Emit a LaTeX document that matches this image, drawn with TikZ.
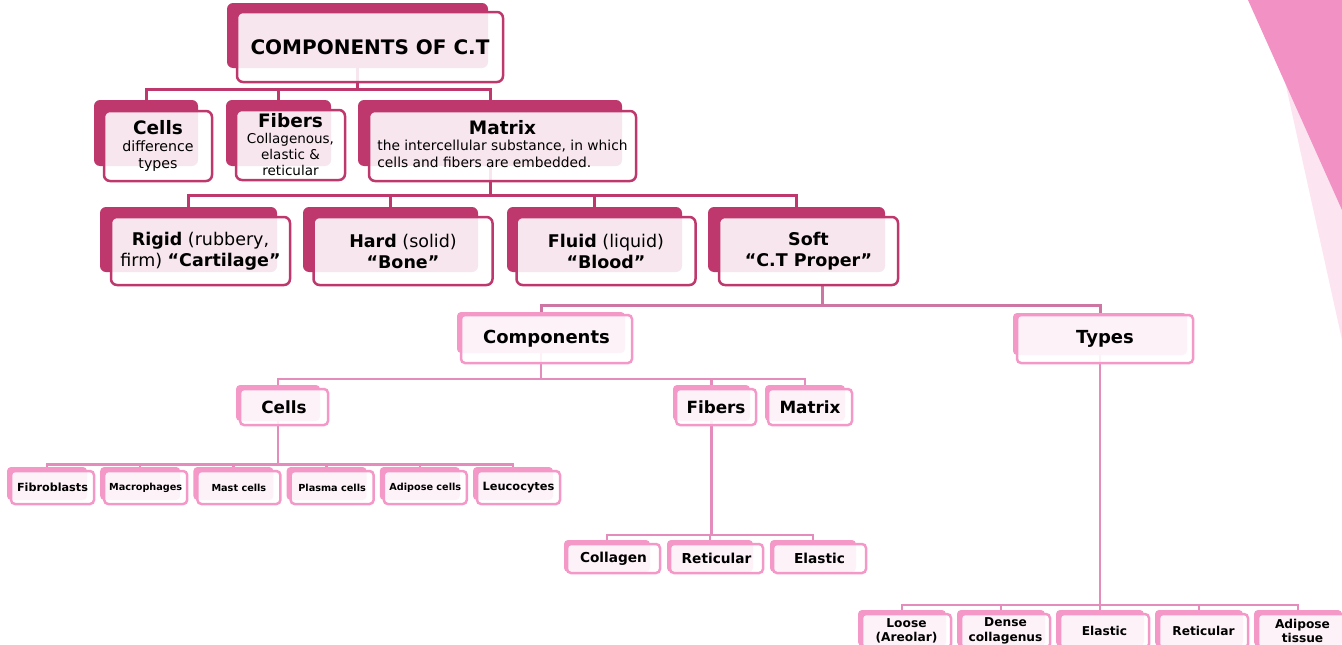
\documentclass[tikz,border=0pt]{standalone}
\usepackage{fontspec}
\setmainfont{DejaVu Sans}
\usetikzlibrary{backgrounds}

\definecolor{ctmag}{RGB}{191,56,109}
\definecolor{ctmid}{RGB}{205,118,163}
\definecolor{ctpink}{RGB}{244,152,200}
\definecolor{ctline}{RGB}{228,140,188}
\definecolor{ctdeco}{RGB}{241,145,196}
\definecolor{ctdecolight}{RGB}{252,229,241}

\begin{document}
\begin{tikzpicture}[x=1pt, y=-1pt,
    backA/.style={fill=ctmag, rounded corners=6pt, inner sep=0pt},
    frontA/.style={draw=ctmag, line width=2.5pt, fill=white, fill opacity=0.88, text opacity=1, rounded corners=6pt, inner sep=0pt, align=center},
    backB/.style={fill=ctpink, rounded corners=4pt, inner sep=0pt},
    frontB/.style={draw=ctpink, line width=2.5pt, fill=white, fill opacity=0.88, text opacity=1, rounded corners=4pt, inner sep=0pt, align=center},
    lineA/.style={draw=ctmag, line width=3pt},
    lineM/.style={draw=ctmid, line width=3pt},
    lineB/.style={draw=ctline, line width=2.5pt}]
%      \draw [help lines, opacity=0.3] (0,0) grid [step=50] (1342,645);
      \useasboundingbox (0,0) rectangle (1342,645);

      \fill [ctdecolight] (1267,0) -- (1342,0) -- (1342,340) -- cycle;
      \fill [ctdeco] (1248,0) -- (1342,0) -- (1342,210) -- cycle;

      % first two rows
      \node [backA, minimum width=261, minimum height=65] (top) at (357.5,35.5) {};
      \node [frontA, minimum width=266, minimum height=70, font=\fontsize{20}{24}\selectfont\bfseries] (top-f) at (370,47) {COMPONENTS OF C.T};

      \node [backA, minimum width=104, minimum height=66] (cells) at (146,133) {};
      \node [frontA, minimum width=108, minimum height=70, font=\fontsize{14.2}{17}\selectfont] (cells-f) at (158,146) {{\fontsize{18.5}{20}\selectfont\bfseries Cells}\\difference\\types};
      \node [backA, minimum width=105, minimum height=66] (fibers) at (278.5,133) {};
      \node [frontA, minimum width=109, minimum height=70, font=\fontsize{13.5}{16}\selectfont] (fibers-f) at (290.5,145) {{\fontsize{18.5}{20}\selectfont\bfseries Fibers}\\Collagenous,\\elastic \&\\reticular};
      \node [backA, minimum width=264, minimum height=66] (matrix) at (490,133) {};
      \node [frontA, minimum width=267, minimum height=70, font=\fontsize{13.8}{16.5}\selectfont] (matrix-f) at (502.5,146) {\begin{tabular}{@{}l@{}}\multicolumn{1}{@{}c@{}}{\fontsize{18.5}{20}\selectfont\bfseries Matrix}\\the intercellular substance, in which\\cells and fibers are embedded.\end{tabular}};

      \node [backA, minimum width=177, minimum height=65] (rigid) at (188.5,239.5) {};
      \node [frontA, minimum width=179, minimum height=68, font=\fontsize{17.5}{21}\selectfont] (rigid-f) at (200.5,251) {\textbf{Rigid} (rubbery,\\firm) \textbf{“Cartilage”}};
      \node [backA, minimum width=175, minimum height=65] (hard) at (390.5,239.5) {};
      \node [frontA, minimum width=179, minimum height=68, font=\fontsize{17.5}{21}\selectfont] (hard-f) at (403,251) {\textbf{Hard} (solid)\\\textbf{“Bone”}};
      \node [backA, minimum width=175, minimum height=65] (fluid) at (594.5,239.5) {};
      \node [frontA, minimum width=179, minimum height=68, font=\fontsize{17.5}{21}\selectfont] (fluid-f) at (606,251) {\textbf{Fluid} (liquid)\\\textbf{“Blood”}};
      \node [backA, minimum width=177, minimum height=65] (soft) at (796.5,239.5) {};
      \node [frontA, minimum width=179, minimum height=68, font=\fontsize{17.5}{21}\selectfont\bfseries] (soft-f) at (808.5,251) {Soft\\“C.T Proper”};

      % soft c.t
      \node [backB, minimum width=168, minimum height=41] (comp) at (541,332.5) {};
      \node [frontB, minimum width=171, minimum height=48, font=\fontsize{18}{20}\selectfont\bfseries] (comp-f) at (546.5,339) {Components};
      \node [backB, minimum width=174, minimum height=42] (types) at (1100,334) {};
      \node [frontB, minimum width=176, minimum height=48, font=\fontsize{18}{20}\selectfont\bfseries] (types-f) at (1105,339) {Types};
      \coordinate (sj) at (822,305);

      \node [backB, minimum width=84, minimum height=36] (cells3) at (278,403) {};
      \node [frontB, minimum width=88, minimum height=36, font=\fontsize{16.8}{19}\selectfont\bfseries] (cells3-f) at (284,407) {Cells};
      \node [backB, minimum width=77, minimum height=36] (fibers3) at (711.5,403) {};
      \node [frontB, minimum width=80, minimum height=36, font=\fontsize{16.8}{19}\selectfont\bfseries] (fibers3-f) at (716,407) {Fibers};
      \node [backB, minimum width=80, minimum height=36] (matrix3) at (805,403) {};
      \node [frontB, minimum width=84, minimum height=36, font=\fontsize{16.8}{19}\selectfont\bfseries] (matrix3-f) at (810,407) {Matrix};

      \foreach \t/\s [count=\i from 0] in {Fibroblasts/11.2, Macrophages/9.7, Mast cells/9.7, Plasma cells/9.7, Adipose cells/9.7, Leucocytes/11.4} {
        \node [backB, minimum width=80, minimum height=33] (cc\i) at ({47+93.2*\i},483.5) {};
        \node [frontB, minimum width=83, minimum height=33, font=\fontsize{\s}{\s}\selectfont\bfseries] (cc\i-f) at ([shift={(5.5,4)}]cc\i.center) {\t};
      }
      \foreach \t [count=\i from 0] in {Collagen, Reticular, Elastic} {
        \node [backB, minimum width=86, minimum height=32] (fc\i) at ({607+103*\i},556) {};
        \node [frontB, minimum width=93, minimum height=29, font=\fontsize{13.7}{16}\selectfont\bfseries] (fc\i-f) at ([shift={(6.5,2.5)}]fc\i.center) {\t};
      }
      \foreach \t [count=\i from 0] in {Loose\\(Areolar), Dense\\collagenus, Elastic, Reticular, Adipose\\tissue} {
        \node [backB, minimum width=88, minimum height=36] (tc\i) at ({902+99*\i},628) {};
        \node [frontB, minimum width=89, minimum height=34, font=\fontsize{12.2}{14.5}\selectfont\bfseries] (tc\i-f) at ([shift={(4.5,3)}]tc\i.center) {\t};
      }

      \begin{scope}[on background layer]
      \foreach \c in {cells,fibers,matrix} \draw [lineA] (top.south) -- ++(0,21) -| (\c.north);
      \foreach \c in {rigid,hard,fluid,soft} \draw [lineA] (matrix.south) -- ++(0,29) -| (\c.north);
      \draw [lineM] (soft-f.south -| sj) -- (sj);
      \foreach \c in {comp,types} \draw [lineM] (sj) -| (\c.north);
      \foreach \c in {cells3,fibers3,matrix3} \draw [lineB] (comp.south) -- ++(0,26) -| (\c.north);
      \foreach \i in {0,...,5} \draw [lineB] (cells3.south) -- ++(0,43.5) -| (cc\i.north);
      \foreach \i in {0,1,2} \draw [lineB] (fibers3.south) -- ++(0,114) -| (fc\i.north);
      \foreach \i in {0,...,4} \draw [lineB] (types.south) -- ++(0,250) -| (tc\i.north);
      \end{scope}
\end{tikzpicture}
\end{document}
